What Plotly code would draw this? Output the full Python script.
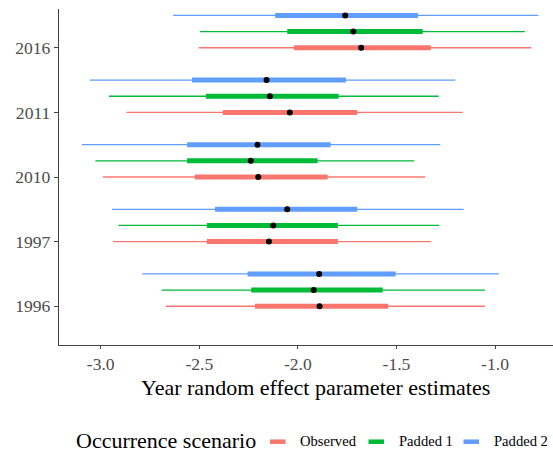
import plotly.graph_objects as go

# Years shown on the vertical axis (bottom to top)
years = ["1996", "1997", "2010", "2011", "2016"]

# Scenario labels and their colours
scenarios = ["Observed", "Padded 1", "Padded 2"]
colors = ["#F8766D", "#00BA38", "#619CFF"]
offsets = [0.0, 0.25, 0.5]

# Posterior summaries per scenario: outer interval, inner interval, median
obs_lo95 = [-2.669, -2.938, -2.990, -2.870, -2.503]
obs_lo50 = [-2.218, -2.462, -2.523, -2.381, -2.020]
obs_med = [-1.890, -2.147, -2.201, -2.041, -1.679]
obs_hi50 = [-1.542, -1.797, -1.849, -1.699, -1.326]
obs_hi95 = [-1.051, -1.326, -1.354, -1.164, -0.816]

pad1_lo95 = [-2.692, -2.910, -3.027, -2.958, -2.497]
pad1_lo50 = [-2.237, -2.462, -2.562, -2.467, -2.054]
pad1_med = [-1.920, -2.125, -2.239, -2.142, -1.719]
pad1_hi50 = [-1.570, -1.797, -1.900, -1.793, -1.367]
pad1_hi95 = [-1.051, -1.283, -1.410, -1.286, -0.849]

pad2_lo95 = [-2.790, -2.943, -3.095, -3.056, -2.633]
pad2_lo50 = [-2.255, -2.420, -2.562, -2.537, -2.115]
pad2_med = [-1.892, -2.054, -2.205, -2.159, -1.760]
pad2_hi50 = [-1.504, -1.699, -1.834, -1.756, -1.391]
pad2_hi95 = [-0.981, -1.159, -1.278, -1.201, -0.780]

x_ticks = [-3.0, -2.5, -2.0, -1.5, -1.0]
x_ticktext = ["-3.0", "-2.5", "-2.0", "-1.5", "-1.0"]

series = [
    (obs_lo95, obs_lo50, obs_med, obs_hi50, obs_hi95),
    (pad1_lo95, pad1_lo50, pad1_med, pad1_hi50, pad1_hi95),
    (pad2_lo95, pad2_lo50, pad2_med, pad2_hi50, pad2_hi95),
]

FONT = "Liberation Serif, Times New Roman, Times, serif"

fig = go.Figure()


def segments(lo, hi, ypos):
    xs, ys = [], []
    for a, b, y in zip(lo, hi, ypos):
        xs += [a, b, None]
        ys += [y, y, None]
    return xs, ys


for name, col, off, (lo95, lo50, med, hi50, hi95) in zip(scenarios, colors, offsets, series):
    ypos = [i + 1 + off for i in range(len(years))]
    xs, ys = segments(lo95, hi95, ypos)
    fig.add_trace(go.Scatter(x=xs, y=ys, mode="lines", line=dict(color=col, width=1.3),
                             showlegend=False, hoverinfo="skip"))
    xs, ys = segments(lo50, hi50, ypos)
    fig.add_trace(go.Scatter(x=xs, y=ys, mode="lines", line=dict(color=col, width=5),
                             showlegend=False, hoverinfo="skip"))
    fig.add_trace(go.Scatter(x=med, y=ypos, mode="markers",
                             marker=dict(color="black", size=6), showlegend=False, name=name))

# Plot-area geometry in pixels
W, H = 553, 455
L, R, T, B = 59, 0, 9, 110
pw, ph = W - L - R, H - T - B


def px_x(px):
    return (px - L) / pw


def px_y(py):
    return (H - B - py) / ph


fig.update_layout(
    width=W, height=H,
    margin=dict(l=L, r=R, t=T, b=B, pad=0),
    paper_bgcolor="white", plot_bgcolor="white",
    font=dict(family=FONT),
    xaxis=dict(range=[-3.2117, -0.706], tickvals=x_ticks, ticktext=x_ticktext,
               showgrid=False, zeroline=False, showline=True, linecolor="#444444", linewidth=1.2,
               ticks="outside", ticklen=3, tickcolor="#444444", tickwidth=1,
               tickfont=dict(family=FONT, size=17.6, color="#4D4D4D")),
    yaxis=dict(range=[0.4, 5.6], tickvals=[1, 2, 3, 4, 5], ticktext=years,
               showgrid=False, zeroline=False, showline=True, linecolor="#444444", linewidth=1.2,
               ticks="outside", ticklen=4, tickcolor="#444444", tickwidth=1,
               tickfont=dict(family=FONT, size=17.6, color="#4D4D4D")),
)

# Axis title
fig.add_annotation(text="Year random effect parameter estimates", xref="paper", yref="paper",
                   x=px_x(315), y=px_y(387), xanchor="center", yanchor="middle", showarrow=False,
                   font=dict(family=FONT, size=22, color="black"))

# Legend drawn along the bottom
fig.add_annotation(text="Occurrence scenario", xref="paper", yref="paper",
                   x=px_x(74), y=px_y(440), xanchor="left", yanchor="middle", showarrow=False,
                   font=dict(family=FONT, size=22, color="black"))
key_x = [270, 368.5, 463.5]
for name, col, kx in zip(scenarios, colors, key_x):
    fig.add_shape(type="line", xref="paper", yref="paper",
                  x0=px_x(kx), x1=px_x(kx + 15.5), y0=px_y(441.7), y1=px_y(441.7),
                  line=dict(color=col, width=4.5))
    fig.add_annotation(text=name, xref="paper", yref="paper",
                       x=px_x(kx + 28), y=px_y(441), xanchor="left", yanchor="middle",
                       showarrow=False, font=dict(family=FONT, size=14.6, color="black"))

fig.write_html("out.html")
